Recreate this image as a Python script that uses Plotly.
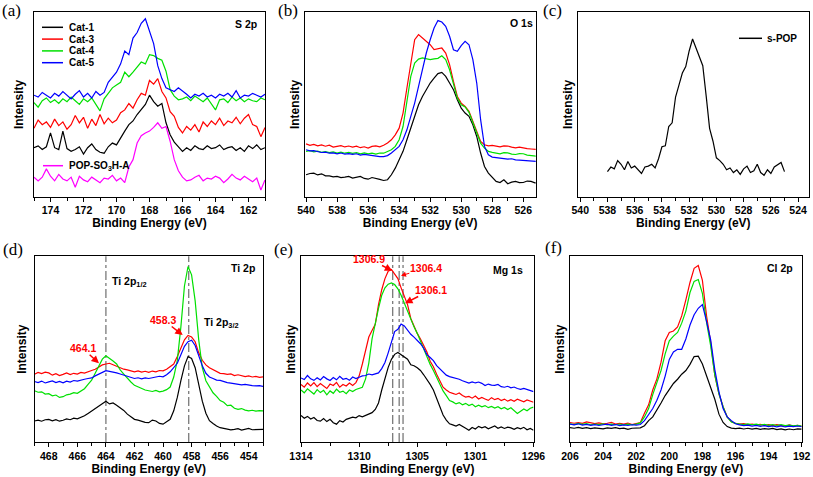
import plotly.graph_objects as go

# ---------------- data (arbitrary intensity units) ----------------
# (a) S 2p
BE_S2P = [175.0, 174.75, 174.5, 174.25, 174.0, 173.75, 173.5, 173.25, 173.0, 172.75, 172.5, 172.25, 172.0,
          171.75, 171.5, 171.25, 171.0, 170.75, 170.5, 170.25, 170.0, 169.75, 169.5, 169.25, 169.0, 168.75,
          168.5, 168.25, 168.0, 167.75, 167.5, 167.25, 167.0, 166.75, 166.5, 166.25, 166.0, 165.75, 165.5,
          165.25, 165.0, 164.75, 164.5, 164.25, 164.0, 163.75, 163.5, 163.25, 163.0, 162.75, 162.5, 162.25,
          162.0, 161.75, 161.5, 161.25, 161.0]
S2P_CAT1 = [26.5, 27.5, 25.5, 27, 34.5, 26.5, 25.5, 35.5, 26, 24.5, 25.5, 27, 23, 26.5, 28.5, 25.5, 24, 23.5, 27,
            29, 28, 32, 35.5, 39, 41, 44.5, 47, 50, 55, 51.5, 49, 50.5, 40, 33.5, 29.5, 27, 24.5, 26.5, 25, 27.5,
            26, 25.5, 27.5, 26, 26.5, 28, 25.5, 26.5, 27, 25, 26.5, 24.5, 27.5, 26, 28, 25.5, 26.5]
S2P_CAT3 = [37, 41.5, 39, 40.5, 37.5, 42, 38.5, 40.5, 36.5, 39, 44, 40, 43, 37, 42, 38.5, 44.5, 39.5, 42.5, 40,
            41.5, 45.5, 47, 50.5, 48, 52.5, 56, 55, 63, 61, 64, 57, 53.5, 46, 43.5, 37.5, 34.5, 38, 36, 39, 35,
            40.5, 38, 41, 39, 42.5, 38.5, 41, 40, 43, 39.5, 42.5, 44.5, 39, 38, 32.5, 37.5]
S2P_CAT4 = [51, 48.5, 52, 53.5, 51, 52.5, 50.5, 53, 51.5, 54, 52, 50, 53, 51.5, 53.5, 50, 46.5, 53, 56, 59, 60.5,
            62, 67.5, 65, 67.5, 70, 73, 72, 77, 76.5, 75, 74, 68, 58, 54.5, 52.5, 53, 54, 52, 54.5, 53, 51.5,
            53.5, 50, 47, 52.5, 53, 51, 54, 52, 53.5, 51.5, 53, 52, 51.5, 53.5, 52.5]
S2P_CAT5 = [55, 54, 56.5, 55, 53.5, 56, 54.5, 57, 55, 53, 55.5, 57.5, 54, 56, 53.5, 57, 55, 56.5, 62, 65, 67.5,
            72, 79, 77, 86, 89, 94, 96.5, 90, 83, 71, 64, 59, 58, 57, 59, 57.5, 55.5, 53.5, 55.5, 54.5, 56, 54,
            55, 53.5, 55.5, 54.5, 56, 54, 57.5, 53.5, 55, 54.5, 56, 55, 54, 55.5]
S2P_POP = [10.5, 8.5, 10.5, 15, 11, 8.5, 12, 9.5, 8.5, 10.5, 5, 11, 9, 8, 10.5, 9, 7.5, 10, 9.5, 11.5, 8.5, 10,
           7.5, 16, 20, 29, 33, 34.5, 35.5, 37.5, 40, 37, 38, 30, 20, 14, 10.5, 8.5, 9, 10.5, 11.5, 8.5, 10,
           9.5, 11, 10, 7.5, 9.5, 12, 10, 9, 11, 9.5, 8, 10, 3.5, 9]

# (b) O 1s
BE_O1S = [540.0, 539.75, 539.5, 539.25, 539.0, 538.75, 538.5, 538.25, 538.0, 537.75, 537.5, 537.25, 537.0,
          536.75, 536.5, 536.25, 536.0, 535.75, 535.5, 535.25, 535.0, 534.75, 534.5, 534.25, 534.0, 533.75,
          533.5, 533.25, 533.0, 532.75, 532.5, 532.25, 532.0, 531.75, 531.5, 531.25, 531.0, 530.75, 530.5,
          530.25, 530.0, 529.75, 529.5, 529.25, 529.0, 528.75, 528.5, 528.25, 528.0, 527.75, 527.5, 527.25,
          527.0, 526.75, 526.5, 526.25, 526.0, 525.75, 525.5, 525.25, 525.0]
O1S_CAT1 = [11.8, 12.5, 12.7, 11.7, 12.3, 11.2, 11.2, 10.7, 10.9, 10.3, 10.5, 10.9, 10, 10.4, 10.9, 9.8, 9.4,
            10.3, 10, 9.3, 8.7, 9.1, 11.8, 15.4, 19.9, 24.5, 30.8, 37.1, 44.4, 49.8, 54.3, 58, 61.6, 64.3, 66.7,
            67.4, 65.2, 61.6, 58, 52.5, 48, 45.3, 43.5, 38.9, 32.6, 23.6, 16.3, 12.7, 10.5, 8.2, 7.6, 9.1, 6.9,
            7.8, 8.2, 7.5, 7.6, 8.4, 8.2, 7.4, 7.2]
O1S_CAT3 = [28.6, 27.8, 28.3, 27.5, 28, 27.3, 27.9, 26.8, 27.2, 27.6, 26.9, 27.4, 26.8, 27.3, 26.5, 27, 26.3,
            27.2, 27.5, 27, 27.8, 29, 30.8, 33.5, 37.1, 45.3, 58.9, 73.4, 85.1, 87.9, 86, 84.2, 82.4, 79.7,
            80.1, 80.6, 77.9, 71.6, 62.5, 54.3, 50.7, 48.9, 46.2, 40.8, 35.3, 29.9, 28.1, 27.5, 27.8, 27.2, 27,
            27.5, 27.4, 26.8, 26.4, 26.8, 26.3, 26, 25.8, 25.5, 25.4]
O1S_CAT4 = [24.5, 24.9, 24.2, 24.6, 24, 24.4, 23.8, 24.2, 23.6, 24.1, 23.5, 23.9, 23.4, 23.8, 23.2, 23.7, 23.1,
            23.5, 23, 23.6, 23.5, 24.3, 25.4, 27.2, 30.8, 38, 52.5, 65.2, 72.5, 74.6, 75.2, 74.6, 74.3, 74.7,
            75, 76.4, 74.3, 68.8, 60.7, 53.4, 49.8, 48.6, 45.7, 39.9, 34.4, 29, 26.3, 24.5, 24, 23.6, 23.2,
            23.8, 23.7, 23, 22.8, 23.3, 23.2, 22.5, 22.3, 22, 21.7]
O1S_CAT5 = [25.4, 24.8, 24.9, 24.2, 23.9, 24.1, 23.5, 23.7, 23.2, 23.6, 23, 23.3, 22.9, 23.2, 22.5, 22.9, 22.6,
            22.1, 22.2, 21.6, 21.7, 22.2, 23.6, 25.4, 27.2, 30.8, 36.2, 43.5, 50.7, 59.8, 69.7, 77.9, 85.1, 91.5,
            95.5, 94.7, 92.4, 87, 79.7, 78.8, 81.9, 84.2, 82.4, 74.3, 61.6, 41.7, 27.2, 22.6, 21.4, 21.1, 20.8,
            20.6, 20.3, 20.5, 19.9, 19.8, 19.6, 19.4, 19.2, 19.3, 19]

# (c) O 1s of s-POP
BE_SPOP = [538.0, 537.75, 537.5, 537.25, 537.0, 536.75, 536.5, 536.25, 536.0, 535.75, 535.5, 535.25, 535.0,
           534.75, 534.5, 534.25, 534.0, 533.75, 533.5, 533.25, 533.0, 532.75, 532.5, 532.25, 532.0, 531.75,
           531.5, 531.25, 531.0, 530.75, 530.5, 530.25, 530.0, 529.75, 529.5, 529.25, 529.0, 528.75, 528.5,
           528.25, 528.0, 527.75, 527.5, 527.25, 527.0, 526.75, 526.5, 526.25, 526.0, 525.75, 525.5, 525.25,
           525.0]
SPOP = [13.5, 16, 15, 19.5, 17.5, 14.5, 19, 15.5, 16.5, 14.5, 12.5, 16, 16.5, 17.5, 15.5, 20.5, 27, 27.5, 38,
        40, 54, 60.5, 67, 70.5, 79, 85.5, 81, 75.5, 71, 54.5, 37, 30, 21, 19.5, 17.5, 14.5, 15.5, 13, 14.5, 12,
        15, 16.5, 13, 14, 17.5, 13, 11.5, 14.5, 12.5, 16, 17.5, 18.5, 13.5]

# (d) Ti 2p
BE_TI2P = [469.0, 468.75, 468.5, 468.25, 468.0, 467.75, 467.5, 467.25, 467.0, 466.75, 466.5, 466.25, 466.0,
           465.75, 465.5, 465.25, 465.0, 464.75, 464.5, 464.25, 464.0, 463.75, 463.5, 463.25, 463.0, 462.75,
           462.5, 462.25, 462.0, 461.75, 461.5, 461.25, 461.0, 460.75, 460.5, 460.25, 460.0, 459.75, 459.5,
           459.25, 459.0, 458.75, 458.5, 458.25, 458.0, 457.75, 457.5, 457.25, 457.0, 456.75, 456.5, 456.25,
           456.0, 455.75, 455.5, 455.25, 455.0, 454.75, 454.5, 454.25, 454.0, 453.75, 453.5, 453.25, 453.0]
TI2P_CAT1 = [11.3, 11.8, 11.2, 12, 12.2, 11.4, 12, 11.2, 11.7, 12.4, 12, 12.8, 12.5, 13.3, 14.1, 15.4, 16.8, 18,
             19.6, 20.6, 21.9, 20.5, 21, 19.8, 18.6, 17, 15, 13.6, 12.2, 11.8, 11, 10.6, 10.4, 11.8, 11.3, 10,
             9.6, 10.8, 12.2, 16.8, 24, 33, 41, 46, 45, 40, 31, 22, 15.5, 11.5, 10, 8.6, 7.7, 7.4, 7.2, 6.5,
             6.8, 7.2, 6.4, 6.9, 7.3, 6.6, 6.8, 7, 6.8]
TI2P_CAT3 = [36.5, 37.5, 36.8, 37.6, 37.2, 36, 36.8, 35.8, 36.4, 37.2, 36.3, 37, 36.6, 37.5, 37.1, 38, 38.5,
             39.2, 40.3, 41.5, 42, 42.4, 41.6, 40.8, 39.8, 39.2, 38.8, 38.2, 37.8, 38.3, 37.6, 38.1, 37.5, 38.2,
             37.8, 38.5, 38.3, 39.2, 40.6, 42, 46, 50.5, 55, 57.4, 56.5, 54, 48, 44, 41.5, 40, 39, 38, 37, 36.8,
             36.4, 36.7, 35.8, 36.2, 35.5, 35.2, 35.6, 35, 35.3, 34.8, 35.1]
TI2P_CAT4 = [27.6, 26.8, 27, 25.8, 26, 24.9, 25.3, 24, 24.4, 25.4, 25.8, 26.6, 26.2, 27.6, 28.7, 31, 33.3, 37,
             40.6, 44.6, 46.4, 45.2, 43.6, 42, 38.8, 36.6, 34.2, 32.3, 30.5, 29.6, 28.7, 28, 27.6, 27.2, 27.8,
             27, 27.4, 28.2, 29.6, 35, 44, 62, 84, 94.5, 90, 76, 55, 40, 33, 29.6, 26.5, 24.6, 22.3, 21.4, 19.6,
             19.8, 18.2, 17.6, 18, 17.2, 16.8, 17.1, 16.6, 16.9, 16.8]
TI2P_CAT5 = [32.6, 32, 32.8, 31.8, 32.4, 32.9, 32, 32.6, 31.9, 32.8, 32.3, 33.1, 32.8, 33.5, 33.8, 34.2, 34.5,
             35.6, 36.6, 37.6, 38.4, 38, 37.7, 37.2, 36.6, 36, 35.2, 34.6, 34.2, 34.6, 34, 34.5, 34.2, 34.6,
             34.9, 35.4, 35.1, 36.2, 37.8, 40, 42.4, 47, 51.5, 54, 54.8, 52, 46, 41, 37, 35, 34.2, 33.3, 33.2,
             32.4, 32, 31.7, 31.4, 31.2, 30.8, 31, 30.5, 30.4, 30.2, 30.4, 30]
TI2P_REF_LINES = [464.0, 458.2]

# (e) Mg 1s
BE_MG1S = [1314.0, 1313.75, 1313.5, 1313.25, 1313.0, 1312.75, 1312.5, 1312.25, 1312.0, 1311.75, 1311.5,
           1311.25, 1311.0, 1310.75, 1310.5, 1310.25, 1310.0, 1309.75, 1309.5, 1309.25, 1309.0, 1308.75,
           1308.5, 1308.25, 1308.0, 1307.75, 1307.5, 1307.25, 1307.0, 1306.75, 1306.5, 1306.25, 1306.0,
           1305.75, 1305.5, 1305.25, 1305.0, 1304.75, 1304.5, 1304.25, 1304.0, 1303.75, 1303.5, 1303.25,
           1303.0, 1302.75, 1302.5, 1302.25, 1302.0, 1301.75, 1301.5, 1301.25, 1301.0, 1300.75, 1300.5,
           1300.25, 1300.0, 1299.75, 1299.5, 1299.25, 1299.0, 1298.75, 1298.5, 1298.25, 1298.0, 1297.75,
           1297.5, 1297.25, 1297.0, 1296.75, 1296.5, 1296.25, 1296.0]
MG1S_CAT1 = [14.3, 12.8, 13.8, 12.4, 13.2, 11.6, 11.2, 12.6, 11, 12.2, 10.4, 9.6, 11.5, 10.8, 12.2, 12.8, 13.4,
             13, 14.2, 13.6, 14.3, 15, 15.8, 17.5, 21, 28, 34.5, 40.2, 44.5, 47.2, 48.2, 47, 46, 44.6, 41.6,
             41.1, 40, 38.5, 36.2, 33.8, 31, 28, 23.8, 19.5, 14.5, 11.8, 9.8, 9.2, 8.6, 9.4, 8.2, 7.4, 6.3, 7.8,
             7, 8.4, 7.6, 8.2, 7.1, 8, 8.6, 7.4, 8.1, 7.3, 8, 7.6, 6.8, 7.7, 7.1, 7.9, 6.6, 7.3, 6.3]
MG1S_CAT3 = [31, 29.5, 31.8, 30.2, 32, 29.8, 31.5, 30, 28.8, 31.2, 30.4, 32.1, 29.5, 31, 30.2, 31.8, 30.5, 32,
             35.5, 42, 49, 56.5, 60, 63.4, 74, 82, 88, 92, 92.9, 90.5, 88, 83, 78, 74, 66.5, 62, 58.5, 55.5, 52,
             48.5, 43.5, 40.5, 36.5, 32.5, 29.5, 28, 26.8, 26.2, 25.6, 26.4, 25, 24.2, 24.5, 23.6, 24.8, 23.2,
             24, 23.2, 22.4, 23.9, 22.8, 23.5, 22.3, 23.1, 22, 22.8, 21.9, 23, 22.3, 21.6, 22.6, 21.8, 21.4]
MG1S_CAT4 = [28, 26.5, 28.6, 27, 25.8, 28.2, 26.6, 27.8, 25.4, 27.5, 26.2, 28.5, 26.8, 27.4, 26, 28, 27.2, 28.3,
             28.8, 29.5, 34, 42.5, 55.5, 64.5, 72, 79, 83, 85, 85.7, 84.8, 82.5, 79, 74.5, 70.5, 66.5, 62, 58.5,
             54.2, 50, 46, 41.8, 38.5, 34.5, 31, 27.5, 25, 22.3, 21.6, 20.5, 21.2, 20, 20.8, 19.6, 20.4, 19,
             19.8, 18.9, 19.6, 18.5, 19.2, 18.3, 19, 17.9, 18.6, 17.5, 18.4, 16.8, 15.4, 16.6, 17.8, 16.8, 18.2,
             18.8]
MG1S_CAT5 = [34.5, 33.6, 35.8, 34, 33.2, 34.6, 33.4, 35.2, 34, 33.1, 34.7, 33.5, 35.4, 33.8, 34.3, 33.2, 35,
             34.2, 34.9, 35.6, 35.8, 36.6, 36.2, 36.8, 37.2, 39.5, 42.8, 48, 53.5, 59.5, 60.7, 63.5, 62.5, 60,
             58, 56.5, 54.8, 52.9, 50.5, 47, 45.5, 43.8, 41.1, 39.5, 37.5, 36, 35.2, 34.8, 34.3, 33.8, 33, 32.5,
             31.7, 32.4, 31.8, 32.3, 31.6, 30.4, 31.2, 30.6, 30.5, 31, 29.8, 29.5, 30, 29.2, 29.6, 28.8, 28.4,
             28.9, 28.2, 27.5, 27.1]
MG1S_REF_LINES = [1306.9, 1306.4, 1306.1]
MG1S_TICKVALS = [1314, 1309.5, 1305, 1300.5, 1296]
MG1S_TICKTEXT = ["1314", "1310", "1305", "1301", "1296"]
MG1S_MINOR = [1311.75, 1307.25, 1302.75, 1298.25]

# (f) Cl 2p
BE_CL2P = [206.0, 205.75, 205.5, 205.25, 205.0, 204.75, 204.5, 204.25, 204.0, 203.75, 203.5, 203.25, 203.0,
           202.75, 202.5, 202.25, 202.0, 201.75, 201.5, 201.25, 201.0, 200.75, 200.5, 200.25, 200.0, 199.75,
           199.5, 199.25, 199.0, 198.75, 198.5, 198.25, 198.0, 197.75, 197.5, 197.25, 197.0, 196.75, 196.5,
           196.25, 196.0, 195.75, 195.5, 195.25, 195.0, 194.75, 194.5, 194.25, 194.0, 193.75, 193.5, 193.25,
           193.0, 192.75, 192.5, 192.25, 192.0]
CL2P_CAT1 = [7.8, 7.4, 7.9, 7.3, 7.7, 7.2, 7.6, 7.4, 7.1, 7.6, 7.3, 7.7, 7.2, 7.5, 6.8, 7.4, 7.5, 7.6, 8.8, 11.5,
             13.5, 17, 21, 25, 28.5, 31.5, 33.8, 36.5, 38.5, 41.8, 46, 46.2, 42, 36, 30, 23, 15, 10.5, 8.3, 7.5,
             7.2, 7.5, 7, 7.4, 6.9, 7.3, 6.8, 7.2, 6.9, 7.3, 6.7, 7.1, 6.5, 7, 6.6, 7.1, 6.9]
CL2P_CAT3 = [10.5, 10.1, 10.4, 10, 10.8, 10.2, 9.9, 10.3, 9.8, 10.1, 10.6, 9.7, 10, 9.6, 10.2, 9.4, 9.8, 10.5,
             15.5, 20, 28, 34, 43, 54.5, 59, 59.8, 62, 67.9, 76.5, 85.9, 93.5, 95, 87, 68, 53.5, 36, 26, 19, 13.5,
             11, 10, 9.6, 9.9, 9.3, 9.6, 9.2, 9.5, 8.9, 9.3, 8.8, 9.4, 9, 8.5, 9.2, 8.6, 8.9, 8.5]
CL2P_CAT4 = [9.8, 9.4, 10, 9.5, 9.9, 9.3, 9.7, 9.4, 9.8, 9.2, 9.6, 9.3, 9.7, 9.2, 9.6, 9.3, 9.6, 10.3, 13.5, 18,
             25.5, 31.5, 38.5, 47.5, 54.5, 57, 59, 64, 70.5, 80.5, 86.5, 87.5, 80, 64.5, 51.7, 36, 26, 19, 13.3,
             10.8, 10, 9.7, 9.4, 9.8, 9.3, 9.6, 9.1, 9.5, 9, 9.4, 8.9, 9.3, 8.8, 9.1, 8.7, 9, 8.6]
CL2P_CAT5 = [9.6, 9.2, 9.8, 9.1, 9.5, 9, 9.4, 8.9, 9.3, 9.6, 9, 9.4, 8.8, 9.2, 8.9, 9.3, 9.1, 9.4, 11.5, 14.5,
             18, 22.5, 28, 35.5, 44.5, 48.5, 49.9, 49.9, 55.5, 63, 68.5, 72, 74, 65, 55, 39, 27, 18, 13.5, 11.5,
             9.8, 9.2, 8.8, 9.1, 8.6, 8.9, 8.4, 8.8, 8.3, 8.6, 8.2, 8.7, 8.1, 8.5, 8.3, 8.6, 8.2]

SERIES_NAMES = ["Cat-1", "Cat-3", "Cat-4", "Cat-5"]
COLORS = {"Cat-1": "#000000", "Cat-3": "#ff0000", "Cat-4": "#00e000", "Cat-5": "#0000ff",
          "POP-SO3H-A": "#ff00ff", "s-POP": "#000000"}

for xs, ys in [(BE_S2P, [S2P_CAT1, S2P_CAT3, S2P_CAT4, S2P_CAT5, S2P_POP]),
               (BE_O1S, [O1S_CAT1, O1S_CAT3, O1S_CAT4, O1S_CAT5]),
               (BE_SPOP, [SPOP]),
               (BE_TI2P, [TI2P_CAT1, TI2P_CAT3, TI2P_CAT4, TI2P_CAT5]),
               (BE_MG1S, [MG1S_CAT1, MG1S_CAT3, MG1S_CAT4, MG1S_CAT5]),
               (BE_CL2P, [CL2P_CAT1, CL2P_CAT3, CL2P_CAT4, CL2P_CAT5])]:
    for y in ys:
        assert len(y) == len(xs), (len(xs), len(y))

# ---------------- figure ----------------
W, H = 813, 477
SANS = "Arial, 'Liberation Sans', Helvetica, sans-serif"
SERIF = "'Times New Roman', 'Liberation Serif', Times, serif"


def fx(p):
    return p / W


def fy(p):
    return 1 - p / H


PANELS = [
    dict(xd=(34, 265), yd=(12.3, 196.5), xr=[175, 161], tick0=162, ysd=6),
    dict(xd=(304.5, 535.7), yd=(12.3, 196.5), xr=[540.1, 525.2], tick0=526, ysd=1),
    dict(xd=(577.5, 809), yd=(12.3, 196.5), xr=[540.2, 523.2], tick0=524, ysd=1),
    dict(xd=(34.5, 263), yd=(256.3, 442), xr=[469, 453], tick0=454, ysd=4),
    dict(xd=(301, 533.5), yd=(256.3, 442), xr=[1314, 1296], tick0=None, ysd=1),
    dict(xd=(570, 801.7), yd=(256.3, 442), xr=[206, 192], tick0=192, ysd=1),
]

fig = go.Figure()
layout = dict(width=W, height=H, margin=dict(l=0, r=0, t=0, b=0, pad=0), autosize=False,
              paper_bgcolor="white", plot_bgcolor="white", showlegend=False)

tickfont = dict(family=SANS, size=10.5, color="black", weight="bold")
titlefont = dict(family=SANS, size=12, color="black", weight="bold")

for i, p in enumerate(PANELS, start=1):
    s = "" if i == 1 else str(i)
    xa = dict(domain=[fx(p["xd"][0]), fx(p["xd"][1])], range=p["xr"], anchor="y" + s,
              automargin=False,
              showline=True, linecolor="black", linewidth=1.3, mirror=True,
              ticks="outside", ticklen=4, tickwidth=1.2, tickcolor="black",
              showgrid=False, zeroline=False, tickfont=tickfont,
              title=dict(text="Binding Energy (eV)", font=titlefont, standoff=3))
    if p["tick0"] is None:
        xa.update(tickmode="array", tickvals=MG1S_TICKVALS, ticktext=MG1S_TICKTEXT,
                  minor=dict(tickmode="array", tickvals=MG1S_MINOR, ticks="outside", ticklen=3,
                             tickcolor="black", tickwidth=1))
    else:
        xa.update(tickmode="linear", tick0=p["tick0"], dtick=2,
                  minor=dict(tickmode="linear", tick0=p["tick0"], dtick=1, ticks="outside", ticklen=3,
                             tickcolor="black", tickwidth=1))
    ya = dict(domain=[fy(p["yd"][1]), fy(p["yd"][0])], range=[0, 100], anchor="x" + s,
              automargin=False,
              showline=True, linecolor="black", linewidth=1.3, mirror=True,
              ticks="", showticklabels=False, showgrid=False, zeroline=False,
              title=dict(text="Intensity", font=titlefont, standoff=p["ysd"]))
    layout["xaxis" + s] = xa
    layout["yaxis" + s] = ya

fig.update_layout(**layout)


def add(panel, x, y, name):
    s = "" if panel == 1 else str(panel)
    fig.add_trace(go.Scatter(x=x, y=y, mode="lines", name=name,
                             line=dict(color=COLORS[name], width=1.2),
                             xaxis="x" + s, yaxis="y" + s, hoverinfo="skip"))


for name, y in zip(SERIES_NAMES, [S2P_CAT1, S2P_CAT3, S2P_CAT4, S2P_CAT5]):
    add(1, BE_S2P, y, name)
add(1, BE_S2P, S2P_POP, "POP-SO3H-A")
for name, y in zip(SERIES_NAMES, [O1S_CAT1, O1S_CAT3, O1S_CAT4, O1S_CAT5]):
    add(2, BE_O1S, y, name)
add(3, BE_SPOP, SPOP, "s-POP")
for name, y in zip(SERIES_NAMES, [TI2P_CAT1, TI2P_CAT3, TI2P_CAT4, TI2P_CAT5]):
    add(4, BE_TI2P, y, name)
for name, y in zip(SERIES_NAMES, [MG1S_CAT1, MG1S_CAT3, MG1S_CAT4, MG1S_CAT5]):
    add(5, BE_MG1S, y, name)
for name, y in zip(SERIES_NAMES, [CL2P_CAT1, CL2P_CAT3, CL2P_CAT4, CL2P_CAT5]):
    add(6, BE_CL2P, y, name)

shapes = []
for xv in TI2P_REF_LINES:
    shapes.append(dict(type="line", xref="x4", yref="y4 domain", x0=xv, x1=xv, y0=0, y1=1,
                       line=dict(color="#6e6e6e", width=1.2, dash="dashdot"), layer="below"))
for xv in MG1S_REF_LINES:
    shapes.append(dict(type="line", xref="x5", yref="y5 domain", x0=xv, x1=xv, y0=0, y1=1,
                       line=dict(color="#6e6e6e", width=1.2, dash="dashdot"), layer="below"))

# manual legends (Origin style, compact)
annotations = []
legfont = dict(family=SANS, size=10, color="black", weight="bold")
for name, ypx in zip(SERIES_NAMES, [27.3, 39.1, 50.9, 62.7]):
    shapes.append(dict(type="line", xref="paper", yref="paper", x0=fx(42), x1=fx(63), y0=fy(ypx), y1=fy(ypx),
                       line=dict(color=COLORS[name], width=1.5)))
    annotations.append(dict(text=name, xref="paper", yref="paper", x=fx(67), y=fy(ypx), xanchor="left",
                            yanchor="middle", showarrow=False, font=legfont))
shapes.append(dict(type="line", xref="paper", yref="paper", x0=fx(43), x1=fx(63), y0=fy(165.7), y1=fy(165.7),
                   line=dict(color=COLORS["POP-SO3H-A"], width=1.5)))
annotations.append(dict(text="POP-SO<sub>3</sub>H-A", xref="paper", yref="paper", x=fx(67), y=fy(165.7),
                        xanchor="left", yanchor="middle", showarrow=False, font=legfont))
shapes.append(dict(type="line", xref="paper", yref="paper", x0=fx(739), x1=fx(762), y0=fy(38.3), y1=fy(38.3),
                   line=dict(color="black", width=1.5)))
annotations.append(dict(text="s-POP", xref="paper", yref="paper", x=fx(765), y=fy(38.3), xanchor="left",
                        yanchor="middle", showarrow=False, font=legfont))

# panel letters
for txt, xp, yp in [("(a)", 11, 10), ("(b)", 287.5, 10), ("(c)", 552, 11),
                    ("(d)", 12.5, 249), ("(e)", 283, 249), ("(f)", 553, 248)]:
    annotations.append(dict(text=txt, xref="paper", yref="paper", x=fx(xp), y=fy(yp), xanchor="center",
                            yanchor="middle", showarrow=False,
                            font=dict(family=SERIF, size=17, color="black")))

# element labels
lblfont = dict(family=SANS, size=10.5, color="black", weight="bold")
for txt, xp, yp, anc in [("S 2p", 246, 24, "center"), ("O 1s", 521.5, 22.7, "center"),
                         ("Ti 2p", 242.5, 267.7, "center"), ("Mg 1s", 508.3, 270, "center"),
                         ("Cl 2p", 780, 268.3, "center"),
                         ("Ti 2p<sub>1/2</sub>", 110, 281.7, "left"),
                         ("Ti 2p<sub>3/2</sub>", 201.7, 323.3, "left")]:
    annotations.append(dict(text=txt, xref="paper", yref="paper", x=fx(xp), y=fy(yp), xanchor=anc,
                            yanchor="middle", showarrow=False, font=lblfont))

# red peak-position labels with arrows (head position, text centre)
redfont = dict(family=SANS, size=10.5, color="#ff0000", weight="bold")
for txt, head, centre, wid in [("458.3", (182.7, 335), (163.3, 320), 1.5),
                               ("464.1", (99, 363.3), (82.5, 348.3), 1.5),
                               ("1306.9", (392.3, 270.7), (369.2, 259), 1.5),
                               ("1306.4", (401, 275.7), (425.8, 268.3), 1.0),
                               ("1306.1", (405, 303.3), (430.8, 290), 1.5)]:
    annotations.append(dict(text=txt, xref="paper", yref="paper", x=fx(head[0]), y=fy(head[1]),
                            ax=centre[0] - head[0], ay=centre[1] - head[1], axref="pixel", ayref="pixel",
                            showarrow=True, arrowhead=2, arrowsize=1, arrowwidth=wid, arrowcolor="#ff0000",
                            font=redfont, borderpad=0))

fig.update_layout(shapes=shapes, annotations=annotations)
# the page's default 8px body margin would shift the 813x477 figure; remove it, and hide the mode bar
fig.write_html("out.html", config={"displayModeBar": False},
               post_script="document.body.style.margin='0px';document.body.style.padding='0px';")
